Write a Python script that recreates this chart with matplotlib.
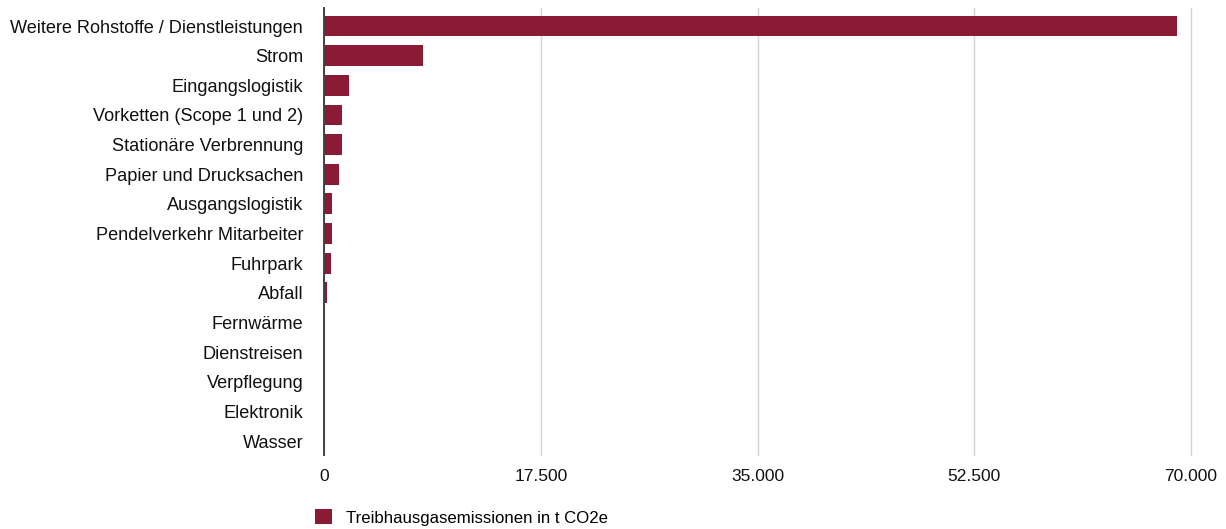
import matplotlib
matplotlib.use("Agg")
import matplotlib.pyplot as plt
import matplotlib.ticker as tck

plt.rcParams['font.family'] = ['Liberation Sans', 'DejaVu Sans']

categories = ['Weitere Rohstoffe / Dienstleistungen', 'Strom', 'Eingangslogistik',
              'Vorketten (Scope 1 und 2)', 'Stationäre Verbrennung', 'Papier und Drucksachen',
              'Ausgangslogistik', 'Pendelverkehr Mitarbeiter', 'Fuhrpark', 'Abfall',
              'Fernwärme', 'Dienstreisen', 'Verpflegung', 'Elektronik', 'Wasser']
emissions = [68900, 8010, 2040, 1430, 1430, 1190, 620, 620, 540, 220,
             15, 10, 8, 5, 2]
xticks = [0, 17500, 35000, 52500, 70000]
series_label = 'Treibhausgasemissionen in t CO2e'
bar_color = '#8b1a35'

fig = plt.figure(figsize=(12.26, 5.29), dpi=100)
ax = fig.add_axes([0.2643, 0.14, 0.7072, 0.845])

ypos = list(range(len(categories)))
ax.barh(ypos, emissions, height=0.7, color=bar_color, label=series_label, zorder=3)
ax.set_ylim(14.47, -0.61)
ax.set_xlim(0, 70000)
ax.set_yticks(ypos)
ax.set_yticklabels(categories, fontsize=13.1, color='#111111')
ax.set_xticks(xticks)
ax.xaxis.set_major_formatter(tck.FuncFormatter(lambda v, p: f'{int(v):,}'.replace(',', '.')))
ax.tick_params(axis='x', length=0, pad=10, labelsize=12.5, labelcolor='#111111')
ax.tick_params(axis='y', length=0, pad=15)

ax.grid(axis='x', color='#d4d4d4', linewidth=1.0, zorder=0)
for line in ax.get_xgridlines():
    line.set_clip_on(False)
for s in ['top', 'right', 'bottom']:
    ax.spines[s].set_visible(False)
ax.spines['left'].set_color('#444444')
ax.spines['left'].set_linewidth(1.4)
ax.spines['left'].set_zorder(4)

fig.legend(loc='lower left', bbox_to_anchor=(0.245, -0.022), frameon=False,
           fontsize=12.1, handlelength=1.0, handleheight=1.0, handletextpad=0.8)

fig.savefig('out.png', dpi=100)
